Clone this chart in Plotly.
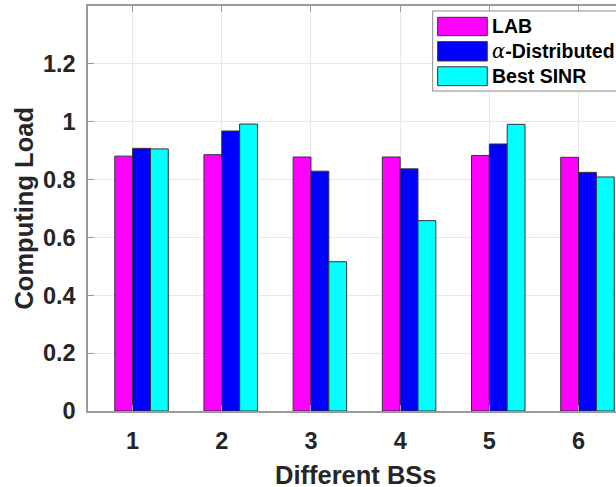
import plotly.graph_objects as go

# Computing load per base station for the three association schemes
bs_ids = [1, 2, 3, 4, 5, 6]
series_names = ["LAB", "α-Distributed", "Best SINR"]
lab_load = [0.881, 0.886, 0.878, 0.878, 0.883, 0.877]
alpha_load = [0.908, 0.968, 0.829, 0.837, 0.923, 0.825]
sinr_load = [0.906, 0.992, 0.516, 0.658, 0.991, 0.809]
y_ticks = [0, 0.2, 0.4, 0.6, 0.8, 1.0, 1.2]
y_tick_text = ["0", "0.2", "0.4", "0.6", "0.8", "1", "1.2"]

colors = ["#ff00ff", "#0000ff", "#00ffff"]
offsets = [-0.2, 0.0, 0.2]
bar_w = 0.2

FONT = "Liberation Sans, Arial, sans-serif"
TXT = "#262626"
AXIS = "#9a9a9a"

fig = go.Figure()
for name, vals, col, off in zip(series_names, [lab_load, alpha_load, sinr_load], colors, offsets):
    fig.add_trace(go.Bar(
        x=bs_ids, y=vals, name=name, width=bar_w, offset=off,
        marker=dict(color=col, line=dict(color="#333333", width=1)),
        showlegend=False,
    ))

fig.update_layout(
    width=616, height=487,
    margin=dict(l=88, r=0, t=6, b=76),
    paper_bgcolor="white", plot_bgcolor="white",
    barmode="overlay",
    font=dict(family=FONT, color=TXT),
    xaxis=dict(
        range=[0.5, 6.42], tickvals=bs_ids, ticktext=[str(v) for v in bs_ids],
        showgrid=True, gridcolor="#e8e8e8", gridwidth=1,
        showline=True, linecolor=AXIS, linewidth=1.5, mirror="ticks",
        ticks="inside", ticklen=6, tickcolor=AXIS, tickwidth=1,
        tickfont=dict(family=FONT, size=23.5, color=TXT, weight="bold"),
        ticklabelstandoff=8, zeroline=False,
    ),
    yaxis=dict(
        range=[0, 1.4], tickvals=y_ticks, ticktext=y_tick_text,
        showgrid=True, gridcolor="#e8e8e8", gridwidth=1,
        showline=True, linecolor=AXIS, linewidth=1.5,
        ticks="inside", ticklen=6, tickcolor=AXIS, tickwidth=1,
        tickfont=dict(family=FONT, size=23.5, color=TXT, weight="bold"),
        ticklabelstandoff=6, zeroline=False,
    ),
)

# Axis titles
fig.add_annotation(
    text="Different BSs", x=3.5, xref="x", y=-0.158, yref="paper",
    xanchor="center", yanchor="middle", showarrow=False,
    font=dict(family=FONT, size=25.5, color=TXT, weight="bold"),
)
fig.add_annotation(
    text="Computing Load", x=-0.123, xref="paper", y=0.5, yref="paper",
    xanchor="center", yanchor="middle", textangle=-90, showarrow=False,
    font=dict(family=FONT, size=25.5, color=TXT, weight="bold"),
)

# Legend box with wide colour patches
fig.add_shape(type="rect", xref="paper", yref="paper",
              x0=0.6528, x1=1.2, y0=0.790, y1=0.9877,
              fillcolor="white", line=dict(color="#8c8c8c", width=1), layer="above")
patch_rows = [(0.9721, 0.9267), (0.912, 0.8642), (0.850, 0.8033)]
labels = [
    "LAB",
    "<span style=\"font-family:'DejaVu Serif';font-weight:normal\"><i>α</i></span>-Distributed",
    "Best SINR",
]
for (top, bot), col, lab in zip(patch_rows, colors, labels):
    fig.add_shape(type="rect", xref="paper", yref="paper",
                  x0=0.6622, x1=0.7562, y0=bot, y1=top,
                  fillcolor=col, line=dict(color="#333333", width=1), layer="above")
    fig.add_annotation(
        text=lab, x=0.7620, xref="paper", y=(top + bot) / 2, yref="paper",
        xanchor="left", yanchor="middle", showarrow=False,
        font=dict(family=FONT, size=19.5, color="#000000", weight="bold"),
    )

fig.write_html("out.html")
